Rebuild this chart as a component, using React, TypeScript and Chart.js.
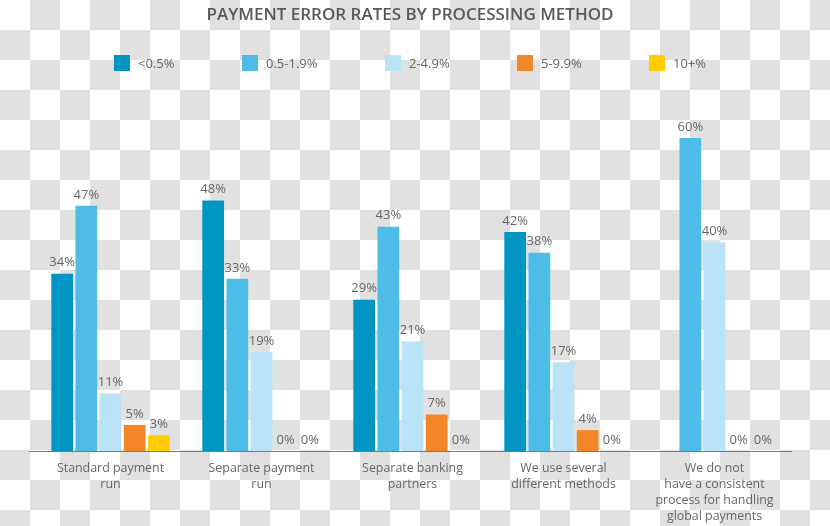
import React, { useEffect, useRef } from "react";
import { Chart, registerables } from "chart.js";

Chart.register(...registerables);

const TITLE = "PAYMENT ERROR RATES BY PROCESSING METHOD";
const categories: string[][] = [
  ["Standard payment", "run"],
  ["Separate payment", "run"],
  ["Separate banking", "partners"],
  ["We use several", "different methods"],
  ["We do not", "have a consistent", "process for handling", "global payments"],
];
const seriesNames = ["<0.5%", "0.5-1.9%", "2-4.9%", "5-9.9%", "10+%"];
const seriesColors = ["#0095C3", "#4DBCE6", "#BAE3F7", "#F4862A", "#FFCC00"];
const lt05: (number | null)[] = [34, 48, 29, 42, null];
const r05to19: (number | null)[] = [47, 33, 43, 38, 60];
const r2to49: (number | null)[] = [11, 19, 21, 17, 40];
const r5to99: (number | null)[] = [5, 0, 7, 4, 0];
const r10plus: (number | null)[] = [3, 0, 0, 0, 0];
const seriesValues = [lt05, r05to19, r2to49, r5to99, r10plus];

const FONT = "'Open Sans', sans-serif";
const TEXT = "#666666";

const checkerPlugin = {
  id: "checker",
  beforeDraw(chart: any) {
    const { ctx, width, height } = chart;
    ctx.save();
    ctx.fillStyle = "#ffffff";
    ctx.fillRect(0, 0, width, height);
    ctx.fillStyle = "#e1e1e1";
    const s = 30;
    for (let j = 0; j * s < height; j++) {
      for (let i = 0; i * s < width; i++) {
        if ((i + j) % 2 === 1) ctx.fillRect(i * s, j * s, s, s);
      }
    }
    ctx.restore();
  },
};

const decorPlugin = {
  id: "decor",
  afterDatasetsDraw(chart: any) {
    const { ctx, chartArea } = chart;
    ctx.save();
    // title
    ctx.font = `600 17px ${FONT}`;
    ctx.fillStyle = "#595959";
    ctx.textAlign = "center";
    ctx.textBaseline = "middle";
    ctx.fillText(TITLE, 410, 15);
    // legend
    ctx.font = `400 13px ${FONT}`;
    const gap = 67.5;
    const widths = chart.data.datasets.map(
      (d: any) => 16 + 8 + ctx.measureText(d.label).width
    );
    const total = widths.reduce((a: number, b: number) => a + b, 0) + gap * (widths.length - 1);
    let x = 410 - total / 2;
    ctx.textAlign = "left";
    chart.data.datasets.forEach((d: any, i: number) => {
      ctx.fillStyle = d.backgroundColor;
      ctx.fillRect(Math.round(x), 55, 16, 16);
      ctx.fillStyle = TEXT;
      ctx.fillText(d.label, Math.round(x) + 24, 64);
      x += widths[i] + gap;
    });
    // axis line
    const yBase = chart.scales.y.getPixelForValue(0);
    ctx.strokeStyle = "#7a7a7a";
    ctx.lineWidth = 1;
    ctx.beginPath();
    ctx.moveTo(chartArea.left - 6, Math.round(yBase) + 0.5);
    ctx.lineTo(chartArea.right + 2, Math.round(yBase) + 0.5);
    ctx.stroke();
    // value labels
    ctx.font = `400 13px ${FONT}`;
    ctx.fillStyle = TEXT;
    ctx.textAlign = "center";
    ctx.textBaseline = "middle";
    chart.data.datasets.forEach((d: any, di: number) => {
      const meta = chart.getDatasetMeta(di);
      meta.data.forEach((bar: any, i: number) => {
        const v = d.data[i];
        if (v === null || v === undefined) return;
        ctx.fillText(`${v}%`, bar.x, bar.y - 11);
      });
    });
    ctx.restore();
  },
};

export default function App() {
  const ref = useRef<HTMLCanvasElement | null>(null);
  useEffect(() => {
    if (!ref.current) return;
    const chart = new Chart(ref.current, {
      type: "bar",
      data: {
        labels: categories,
        datasets: seriesNames.map((name, i) => ({
          label: name,
          data: seriesValues[i],
          backgroundColor: seriesColors[i],
          barPercentage: 0.9,
          categoryPercentage: 0.8,
        })),
      },
      options: {
        animation: false,
        responsive: true,
        maintainAspectRatio: false,
        layout: { padding: { top: 138, left: 35, right: 40, bottom: 0 } },
        plugins: {
          legend: { display: false },
          title: { display: false },
          tooltip: { enabled: false },
        },
        scales: {
          x: {
            grid: { display: false, drawTicks: false },
            border: { display: false },
            afterFit(scale: any) {
              scale.height = 75;
            },
            ticks: {
              padding: 9,
              color: TEXT,
              font: { family: FONT, size: 12.4, weight: 400, lineHeight: 1.29 },
              maxRotation: 0,
              autoSkip: false,
            },
          },
          y: {
            display: false,
            min: 0,
            max: 60,
          },
        },
      },
      plugins: [checkerPlugin, decorPlugin],
    });
    return () => chart.destroy();
  }, []);
  return (
    <div style={{ position: "absolute", left: 0, top: 0, width: 830, height: 526 }}>
      <canvas ref={ref} />
    </div>
  );
}
